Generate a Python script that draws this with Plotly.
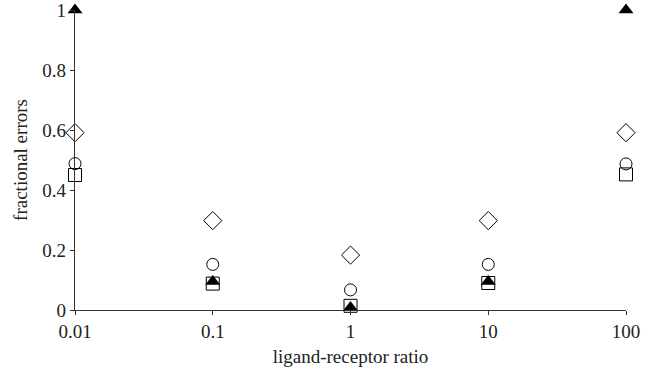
import plotly.graph_objects as go

ratio = [0.01, 0.1, 1, 10, 100]
diamond_vals = [0.591, 0.298, 0.183, 0.298, 0.591]
circle_vals = [0.488, 0.152, 0.067, 0.152, 0.487]
square_vals = [0.45, 0.088, 0.014, 0.090, 0.452]
triangle_vals = [1.0, 0.095, 0.008, 0.095, 1.0]

x_ticks = [0.01, 0.1, 1, 10, 100]
x_ticklabels = ["0.01", "0.1", "1", "10", "100"]
y_ticks = [0, 0.2, 0.4, 0.6, 0.8, 1]
y_ticklabels = ["0", "0.2", "0.4", "0.6", "0.8", "1"]

fig = go.Figure()
fig.add_trace(go.Scatter(x=ratio, y=diamond_vals, mode="markers", cliponaxis=False,
                         marker=dict(symbol="diamond-open", size=14, color="black", line=dict(width=1))))
fig.add_trace(go.Scatter(x=ratio, y=circle_vals, mode="markers", cliponaxis=False,
                         marker=dict(symbol="circle-open", size=12, color="black", line=dict(width=1))))
fig.add_trace(go.Scatter(x=ratio, y=square_vals, mode="markers", cliponaxis=False,
                         marker=dict(symbol="square-open", size=13, color="black", line=dict(width=1))))
fig.add_trace(go.Scatter(x=ratio, y=triangle_vals, mode="markers", cliponaxis=False,
                         marker=dict(symbol="triangle-up", size=13, color="black")))

fam = "Liberation Serif"
tick_font = dict(family=fam, size=19, color="#222")
title_font = dict(family=fam, size=19, color="#222")
fig.update_layout(
    width=657, height=373,
    margin=dict(l=75, r=31, t=10, b=63, autoexpand=False),
    paper_bgcolor="white", plot_bgcolor="white",
    showlegend=False,
    font=tick_font,
    xaxis=dict(type="log", range=[-2, 2], tickvals=x_ticks, ticktext=x_ticklabels,
               showgrid=False, zeroline=False, showline=True, linecolor="#333", linewidth=1.3,
               ticks="outside", ticklen=4, tickcolor="#333", automargin=False, tickfont=tick_font,
               ticklabeloverflow="allow",
               title=dict(text="ligand-receptor ratio", standoff=8, font=title_font)),
    yaxis=dict(range=[0, 1], tickvals=y_ticks, ticktext=y_ticklabels,
               showgrid=False, zeroline=False, showline=True, linecolor="#333", linewidth=1.3,
               ticks="outside", ticklen=4, tickcolor="#333", automargin=False, tickfont=tick_font,
               ticklabeloverflow="allow",
               title=dict(text="fractional errors", standoff=9, font=title_font)),
)
fig.write_html("out.html", config={"displayModeBar": False},
               post_script="document.body.style.margin='0';")
